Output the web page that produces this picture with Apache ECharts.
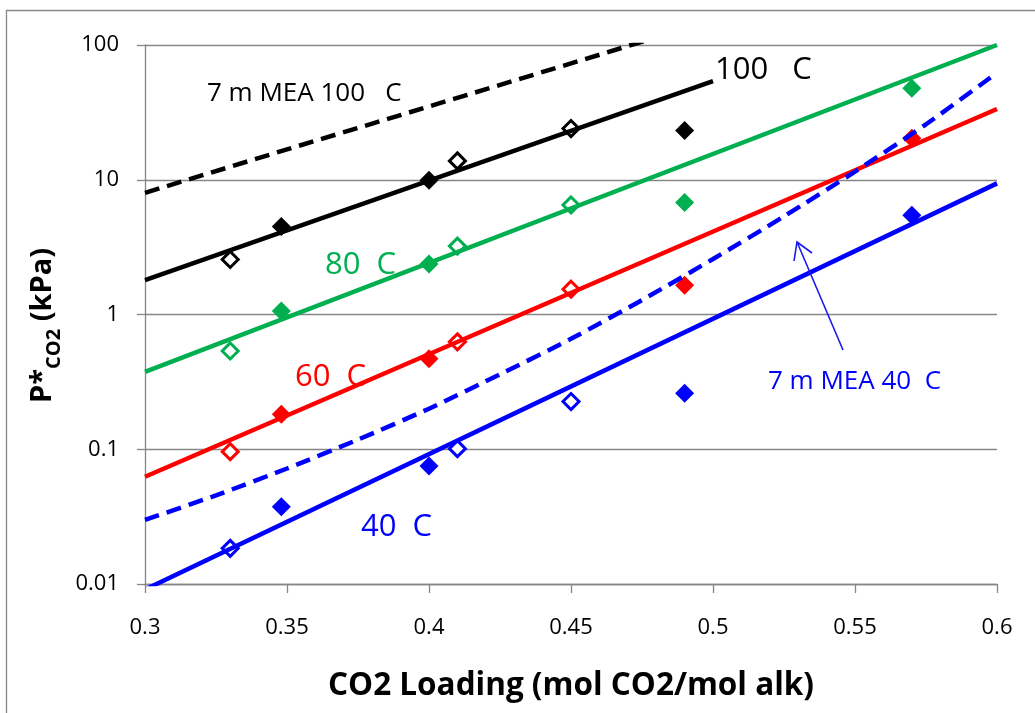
<!DOCTYPE html>
<html>
<head>
<meta charset="utf-8">
<script src="https://cdn.jsdelivr.net/npm/echarts@6/dist/echarts.min.js"></script>
<style>
html,body{margin:0;padding:0;background:#fff;}
#chart{width:1035px;height:713px;}
</style>
</head>
<body>
<div id="chart"></div>
<script>
// ---- data ----
var xTickLabels = ['0.3', '0.35', '0.4', '0.45', '0.5', '0.55', '0.6'];
var yTickLabels = ['0.01', '0.1', '1', '10', '100'];

// measured points: open diamonds / filled diamonds
var open100 = [[0.33, 2.56], [0.41, 13.8], [0.45, 24.0]];
var filled100 = [[0.348, 4.5], [0.40, 9.9], [0.49, 23.2]];
var open80 = [[0.33, 0.536], [0.41, 3.22], [0.45, 6.5]];
var filled80 = [[0.348, 1.06], [0.40, 2.37], [0.49, 6.77], [0.57, 47.7]];
var open60 = [[0.33, 0.096], [0.41, 0.627], [0.45, 1.54]];
var filled60 = [[0.348, 0.182], [0.40, 0.47], [0.49, 1.65], [0.57, 20.3]];
var open40 = [[0.33, 0.0184], [0.41, 0.101], [0.45, 0.226]];
var filled40 = [[0.348, 0.0375], [0.40, 0.075], [0.49, 0.26], [0.57, 5.45]];

// fitted lines (straight on log scale)
var fit100 = [[0.3, 1.8], [0.5, 54]];
var fit80 = [[0.3, 0.375], [0.6, 100]];
var fit60 = [[0.3, 0.0625], [0.6, 33.5]];
var fit40 = [[0.3, 0.0091], [0.6, 9.4]];

// 7 m MEA model curves (dashed)
var mea100 = [[0.3, 8.0], [0.35, 16.8], [0.4, 35], [0.45, 73], [0.5, 153]];
var mea40 = [[0.3, 0.0299], [0.325, 0.0455], [0.35, 0.072], [0.375, 0.118], [0.4, 0.2],
             [0.425, 0.36], [0.45, 0.66], [0.475, 1.28], [0.5, 2.58], [0.525, 5.35],
             [0.55, 11.5], [0.575, 25.8], [0.598, 58]];

var BLACK = '#000000', GREEN = '#00B050', RED = '#FF0000', BLUE = '#0000FF';
var GRID = '#868686';
var FONT = "'Open Sans', 'Noto Sans', sans-serif";

function openSeries(data, color) {
  return { type: 'scatter', data: data, symbol: 'diamond', symbolSize: 16,
    itemStyle: { color: '#ffffff', borderColor: color, borderWidth: 3, opacity: 1 }, z: 2, silent: true };
}
function filledSeries(data, color) {
  return { type: 'scatter', data: data, symbol: 'diamond', symbolSize: 19,
    itemStyle: { color: color, opacity: 1 }, z: 2, silent: true };
}
function lineSeries(data, color, dashed, smooth) {
  return { type: 'line', data: data, showSymbol: false, symbol: 'none', clip: true,
    smooth: smooth || false,
    lineStyle: { color: color, width: 4.5, type: dashed ? [15, 8] : 'solid', cap: 'butt' },
    z: 3, silent: true };
}

var chart = echarts.init(document.getElementById('chart'), null, { renderer: 'canvas' });

var labelStyle = function (text, x, y, size, color) {
  return { type: 'text', left: x, top: y, z: 10,
    style: { text: text, fontSize: size, fill: color, fontFamily: FONT } };
};

chart.setOption({
  animation: false,
  backgroundColor: '#ffffff',
  grid: { left: 145, right: 38, top: 45, bottom: 129, containLabel: false },
  xAxis: {
    type: 'value', min: 0.3, max: 0.6, interval: 0.05,
    axisLine: { show: true, lineStyle: { color: GRID, width: 1.3 } },
    axisTick: { show: true, length: 9, lineStyle: { color: GRID, width: 1.3 } },
    splitLine: { show: false },
    axisLabel: { color: '#000', fontSize: 22, fontFamily: FONT, margin: 33,
      formatter: function (v) { return xTickLabels[Math.round((v - 0.3) / 0.05)]; } },
    name: 'CO2 Loading (mol CO2/mol alk)', nameLocation: 'middle', nameGap: 86,
    nameTextStyle: { color: '#000', fontSize: 31.5, fontWeight: 'bold', fontFamily: FONT }
  },
  yAxis: {
    type: 'log', logBase: 10, min: 0.01, max: 100,
    axisLine: { show: true, lineStyle: { color: GRID, width: 1.3 } },
    axisTick: { show: true, length: 8, lineStyle: { color: GRID, width: 1.3 } },
    splitLine: { show: true, lineStyle: { color: GRID, width: 1.3 } },
    minorTick: { show: false },
    axisLabel: { color: '#000', fontSize: 22, fontFamily: FONT, margin: 26,
      formatter: function (v) { return yTickLabels[Math.round(Math.log10(v)) + 2]; } },
    name: '{a|P*}{b|CO2}{a| (kPa)}', nameLocation: 'middle', nameRotate: 90, nameGap: 62,
    nameTextStyle: {
      color: '#000', fontFamily: FONT, padding: [0, 22, 0, 0],
      rich: {
        a: { fontSize: 29, fontWeight: 'bold', fontFamily: FONT, color: '#000', verticalAlign: 'top' },
        b: { fontSize: 20, fontWeight: 'bold', fontFamily: FONT, color: '#000', verticalAlign: 'top', padding: [16, 0, 0, 0] }
      }
    }
  },
  series: [
    openSeries(open100, BLACK), filledSeries(filled100, BLACK),
    openSeries(open80, GREEN), filledSeries(filled80, GREEN),
    openSeries(open60, RED), filledSeries(filled60, RED),
    openSeries(open40, BLUE), filledSeries(filled40, BLUE),
    lineSeries(mea100, BLACK, true),
    lineSeries(fit100, BLACK, false),
    lineSeries(fit80, GREEN, false),
    lineSeries(fit60, RED, false),
    lineSeries(mea40, BLUE, true, 0.25),
    lineSeries(fit40, BLUE, false)
  ],
  graphic: [
    { type: 'rect', shape: { x: 6.5, y: 10.5, width: 1200, height: 900 }, z: -1, silent: true,
      style: { fill: 'none', stroke: GRID, lineWidth: 1.3 } },
    labelStyle('7 m MEA 100   C', 207, 81, 26, BLACK),
    labelStyle('100   C', 715, 55, 31, BLACK),
    labelStyle('80  C', 325, 250, 31, GREEN),
    labelStyle('60  C', 295, 362, 31, RED),
    labelStyle('40  C', 361, 512, 31, BLUE),
    labelStyle('7 m MEA 40  C', 768, 369, 26, BLUE),
    { type: 'polyline', z: 10, silent: true, shape: { points: [[843, 350], [797, 242]] },
      style: { stroke: '#1a1aee', lineWidth: 1.6, fill: 'none' } },
    { type: 'polyline', z: 10, silent: true, shape: { points: [[794, 261], [797, 242], [812, 253]] },
      style: { stroke: '#1a1aee', lineWidth: 1.6, fill: 'none' } }
  ]
});
</script>
</body>
</html>
